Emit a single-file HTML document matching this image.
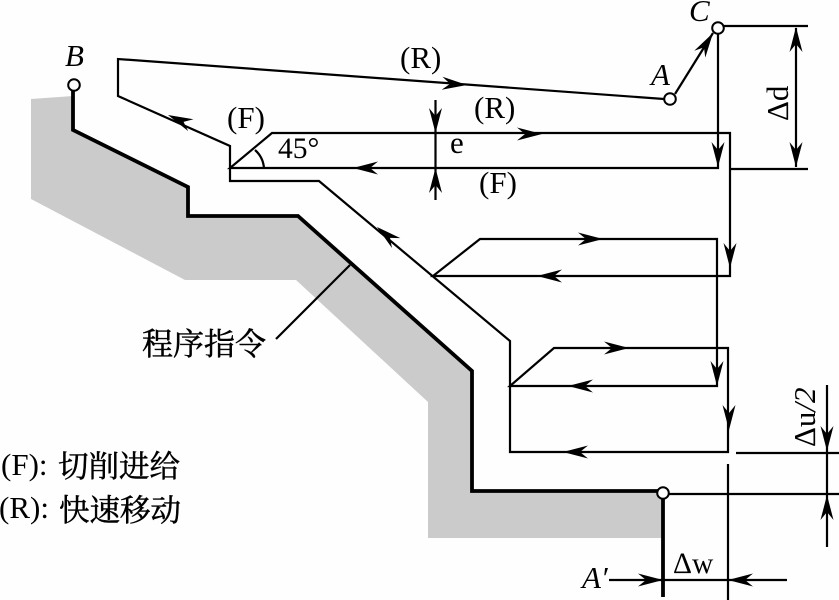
<!DOCTYPE html>
<html><head><meta charset="utf-8"><style>
html,body{margin:0;padding:0;background:#fff;width:839px;height:600px;overflow:hidden}
svg{display:block}
text{font-family:"Liberation Serif","Noto Serif CJK SC",serif;fill:#000}
.l{fill:none;stroke:#000;stroke-width:2.200}
.i{font-style:italic}
.c{stroke:#000;stroke-width:.5}
</style></head><body>
<svg width="839" height="600" viewBox="0 0 839 600" xmlns="http://www.w3.org/2000/svg">
<defs><polygon id="a" points="0,0 -25,-6.500 -17,0 -25,6.500" fill="#000"/></defs>
<rect width="839" height="600" fill="#fefefe"/>
<polygon points="31,99 73,96 73,130 188,187 188,216 298,216 472,371 472,491 662,491 662,538 428,538 428,402 296,280 185,280 31,199" fill="#cbcbcb"/>
<polyline points="73,90 73,130 188,187 188,216 298,216 472,371 472,491 663,491 663,597" fill="none" stroke="#000" stroke-width="3.800"/>
<polyline class="l" points="664,99 118,59 118,96 230,146 230,181 319,181 510,341 510,452 728,452 728,348 554,348 510,386 717,386 717,239 480,239 433,276 730,276 730,133 272,133 230,168 718,168 718,33"/>
<line class="l" x1="675" y1="94" x2="713" y2="33"/>
<line class="l" x1="724" y1="26" x2="808" y2="26"/>
<line class="l" x1="730" y1="169" x2="808" y2="169"/>
<line class="l" x1="796" y1="28" x2="796" y2="167"/>
<line class="l" x1="435.500" y1="100" x2="435.500" y2="200"/>
<line class="l" x1="276" y1="339" x2="350" y2="265"/>
<line class="l" x1="736" y1="453" x2="839" y2="453"/>
<line class="l" x1="669" y1="494" x2="839" y2="494"/>
<line class="l" x1="827" y1="385" x2="827" y2="547"/>
<line class="l" x1="728" y1="464" x2="728" y2="600"/>
<line class="l" x1="609" y1="580" x2="787" y2="580"/>
<path class="l" d="M255,150 Q263,157 264,168"/>
<circle cx="74" cy="85" r="5.800" fill="#fff" stroke="#000" stroke-width="2"/>
<circle cx="670" cy="99" r="5.800" fill="#fff" stroke="#000" stroke-width="2"/>
<circle cx="718" cy="28" r="5.800" fill="#fff" stroke="#000" stroke-width="2"/>
<circle cx="663" cy="493" r="5.800" fill="#fff" stroke="#000" stroke-width="2"/>
<use href="#a" transform="translate(467,85) rotate(4)"/>
<use href="#a" transform="translate(168,115) rotate(204)"/>
<use href="#a" transform="translate(542,134)"/>
<use href="#a" transform="translate(353,168) rotate(180)"/>
<use href="#a" transform="translate(377,227) rotate(220)"/>
<use href="#a" transform="translate(713,33) rotate(-58)"/>
<use href="#a" transform="translate(718,167) rotate(90)"/>
<use href="#a" transform="translate(796,27) rotate(-90)"/>
<use href="#a" transform="translate(796,167) rotate(90)"/>
<use href="#a" transform="translate(435.500,133) rotate(90)"/>
<use href="#a" transform="translate(435.500,168) rotate(-90)"/>
<use href="#a" transform="translate(730,268) rotate(90)"/>
<use href="#a" transform="translate(603,239)"/>
<use href="#a" transform="translate(537,276) rotate(180)"/>
<use href="#a" transform="translate(629,348)"/>
<use href="#a" transform="translate(568,386) rotate(180)"/>
<use href="#a" transform="translate(717,386) rotate(90)"/>
<use href="#a" transform="translate(729,430) rotate(90)"/>
<use href="#a" transform="translate(563,452) rotate(180)"/>
<use href="#a" transform="translate(827,451) rotate(90)"/>
<use href="#a" transform="translate(827,495) rotate(-90)"/>
<use href="#a" transform="translate(663,580)"/>
<use href="#a" transform="translate(728,580) rotate(180)"/>
<g font-size="31">
<text class="i" x="65" y="66">B</text>
<text class="i" x="651" y="85">A</text>
<text class="i" x="689" y="21">C</text>
<text x="400" y="68">(R)</text>
<text x="227" y="128">(F)</text>
<text x="278" y="158" font-size="29.500">45°</text>
<text x="474" y="118">(R)</text>
<text x="450" y="153">e</text>
<text x="479" y="193">(F)</text>
<text x="673" y="573" font-size="29.500">Δw</text>
<text class="i" x="582" y="588">A′</text>
<text transform="translate(788,121) rotate(-90)">Δd</text>
<text transform="translate(815,447) rotate(-90)">Δu<tspan class="i">/2</tspan></text>
<text class="c" x="142" y="355" font-size="31">程序指令</text>
<text x="1" y="475">(F):</text>
<text class="c" x="58" y="477" font-size="30.500">切削进给</text>
<text x="-1" y="518">(R):</text>
<text class="c" x="59" y="521" font-size="30.500">快速移动</text>
</g>
</svg>
</body></html>
